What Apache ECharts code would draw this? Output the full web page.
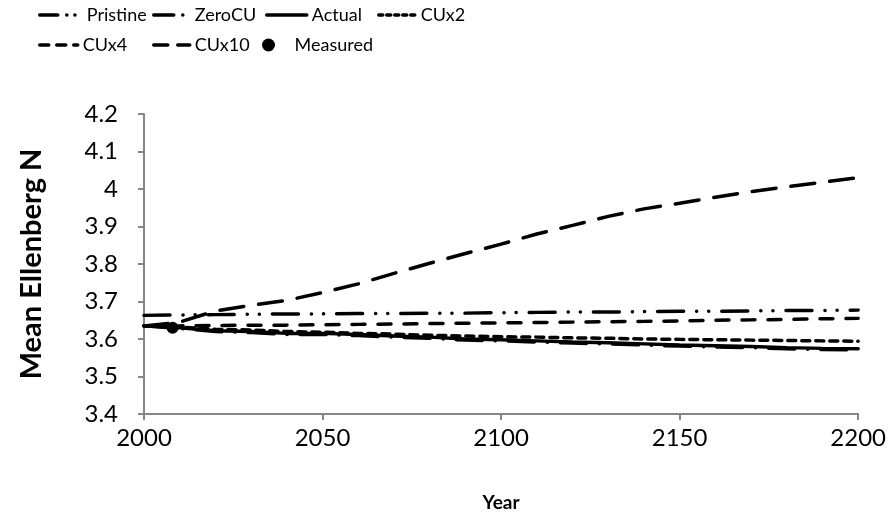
<!DOCTYPE html>
<html>
<head>
<meta charset="utf-8">
<script src="https://cdn.jsdelivr.net/npm/echarts@6/dist/echarts.min.js"></script>
<style>
html,body{margin:0;padding:0;background:#fff;}
#chart{width:889px;height:524px;}
</style>
</head>
<body>
<div id="chart"></div>
<script>
var years = [2000,2010,2020,2030,2040,2050,2060,2070,2080,2090,2100,2110,2120,2130,2140,2150,2160,2170,2180,2190,2200];
var pristine = [3.663,3.664,3.665,3.666,3.667,3.667,3.668,3.668,3.669,3.669,3.670,3.671,3.672,3.672,3.673,3.674,3.674,3.675,3.676,3.676,3.677];
var zeroCU   = [3.635,3.628,3.620,3.617,3.612,3.612,3.609,3.605,3.602,3.597,3.595,3.592,3.589,3.587,3.584,3.581,3.579,3.577,3.574,3.572,3.571];
var actual   = [3.635,3.630,3.622,3.620,3.615,3.615,3.612,3.608,3.605,3.600,3.598,3.595,3.592,3.590,3.587,3.584,3.582,3.580,3.577,3.575,3.574];
var cux2     = [3.635,3.632,3.626,3.624,3.620,3.618,3.615,3.613,3.610,3.608,3.606,3.605,3.603,3.602,3.600,3.599,3.598,3.597,3.596,3.595,3.594];
var cux4     = [3.635,3.635,3.636,3.637,3.637,3.638,3.639,3.640,3.641,3.642,3.643,3.644,3.645,3.646,3.647,3.648,3.650,3.651,3.652,3.654,3.655];
var cux10    = [3.635,3.645,3.675,3.690,3.703,3.724,3.747,3.775,3.802,3.828,3.853,3.880,3.903,3.927,3.947,3.962,3.978,3.993,4.006,4.018,4.030];
var measuredYear = [2008];
var measuredValue = [3.63];
var yTicks = {min: 3.4, max: 4.2, interval: 0.1};
var xTicks = {min: 2000, max: 2200, interval: 50};

function pairs(vals){ return years.map(function(y,i){ return [y, vals[i]]; }); }

var FONT = 'Lato';
var styles = {
  'Pristine': [26,13,0.1,12,0.1,13],
  'ZeroCU': [26,13,0.1,13],
  'Actual': 'solid',
  'CUx2': [8,6],
  'CUx4': [13,13],
  'CUx10': [24,15]
};
var legendStyles = {
  'Pristine': [18,9,0.1,8,0.1,40],
  'ZeroCU': [20,9,0.1,8],
  'Actual': 'solid',
  'CUx2': [4,4],
  'CUx4': [9,8],
  'CUx10': [14,10]
};
var vals = {'Pristine':pristine,'ZeroCU':zeroCU,'Actual':actual,'CUx2':cux2,'CUx4':cux4,'CUx10':cux10};

var series = ['ZeroCU','Pristine','Actual','CUx2','CUx4','CUx10'].map(function(n){
  return {
    name: n, type: 'line', data: pairs(vals[n]), showSymbol: false, symbol: 'none',
    lineStyle: {color: '#000', width: 3.5, type: styles[n], cap: 'round'},
    itemStyle: {color: '#000'}
  };
});
series.push({
  name: 'Measured', type: 'scatter', symbol: 'circle', symbolSize: 12,
  data: measuredYear.map(function(y,i){ return [y, measuredValue[i]]; }),
  itemStyle: {color: '#000', opacity: 1}, z: 5
});

var legendPos = [
  {n:'Pristine', left:38, top:6, w:42},
  {n:'ZeroCU', left:152, top:6, w:36},
  {n:'Actual', left:265, top:6, w:40},
  {n:'CUx2', left:377, top:6, w:37},
  {n:'CUx4', left:38, top:36, w:38},
  {n:'CUx10', left:152, top:36, w:36},
  {n:'Measured', left:262, top:36, w:42}
];
var legends = legendPos.map(function(p){
  var d = {name: p.n};
  if (p.n !== 'Measured') {
    d.lineStyle = {color:'#000', width:3.5, type: legendStyles[p.n], cap:'round', opacity: 1};
    d.itemStyle = {opacity: 0};
  } else {
    d.icon = 'circle';
    d.itemStyle = {color: '#000', opacity: 1};
  }
  return {
    left: p.left, top: p.top, padding: 0, itemWidth: p.w, itemHeight: (p.n==='Measured'?13:14),
    data: [d], selectedMode: false,
    textStyle: {fontFamily: FONT, fontSize: 18, color: '#000'}
  };
});

var chart = echarts.init(document.getElementById('chart'), null, {renderer:'canvas'});
chart.setOption({
  animation: false,
  backgroundColor: '#fff',
  legend: legends,
  grid: {left: 144, right: 30, top: 114, bottom: 110, containLabel: false},
  xAxis: {
    type: 'value', min: xTicks.min, max: xTicks.max, interval: xTicks.interval,
    name: 'Year', nameLocation: 'middle', nameGap: 79,
    nameTextStyle: {fontFamily: FONT, fontSize: 19, fontWeight: 'bold', color: '#000'},
    axisLine: {show: true, lineStyle: {color: '#868686', width: 2}},
    axisTick: {show: true, length: 6, inside: false, lineStyle: {color: '#868686', width: 2}},
    axisLabel: {fontFamily: FONT, fontSize: 24, color: '#000', margin: 12,
      formatter: function(v){ return String(v); }},
    splitLine: {show: false}
  },
  yAxis: {
    type: 'value', min: yTicks.min, max: yTicks.max, interval: yTicks.interval,
    name: 'Mean Ellenberg N', nameLocation: 'middle', nameGap: 98, nameRotate: 90,
    nameTextStyle: {fontFamily: FONT, fontSize: 29, fontWeight: 'bold', color: '#000'},
    axisLine: {show: true, lineStyle: {color: '#868686', width: 2}},
    axisTick: {show: true, length: 6, inside: false, lineStyle: {color: '#868686', width: 2}},
    axisLabel: {fontFamily: FONT, fontSize: 24, color: '#000', margin: 26},
    splitLine: {show: false}
  },
  series: series
});
</script>
</body>
</html>
